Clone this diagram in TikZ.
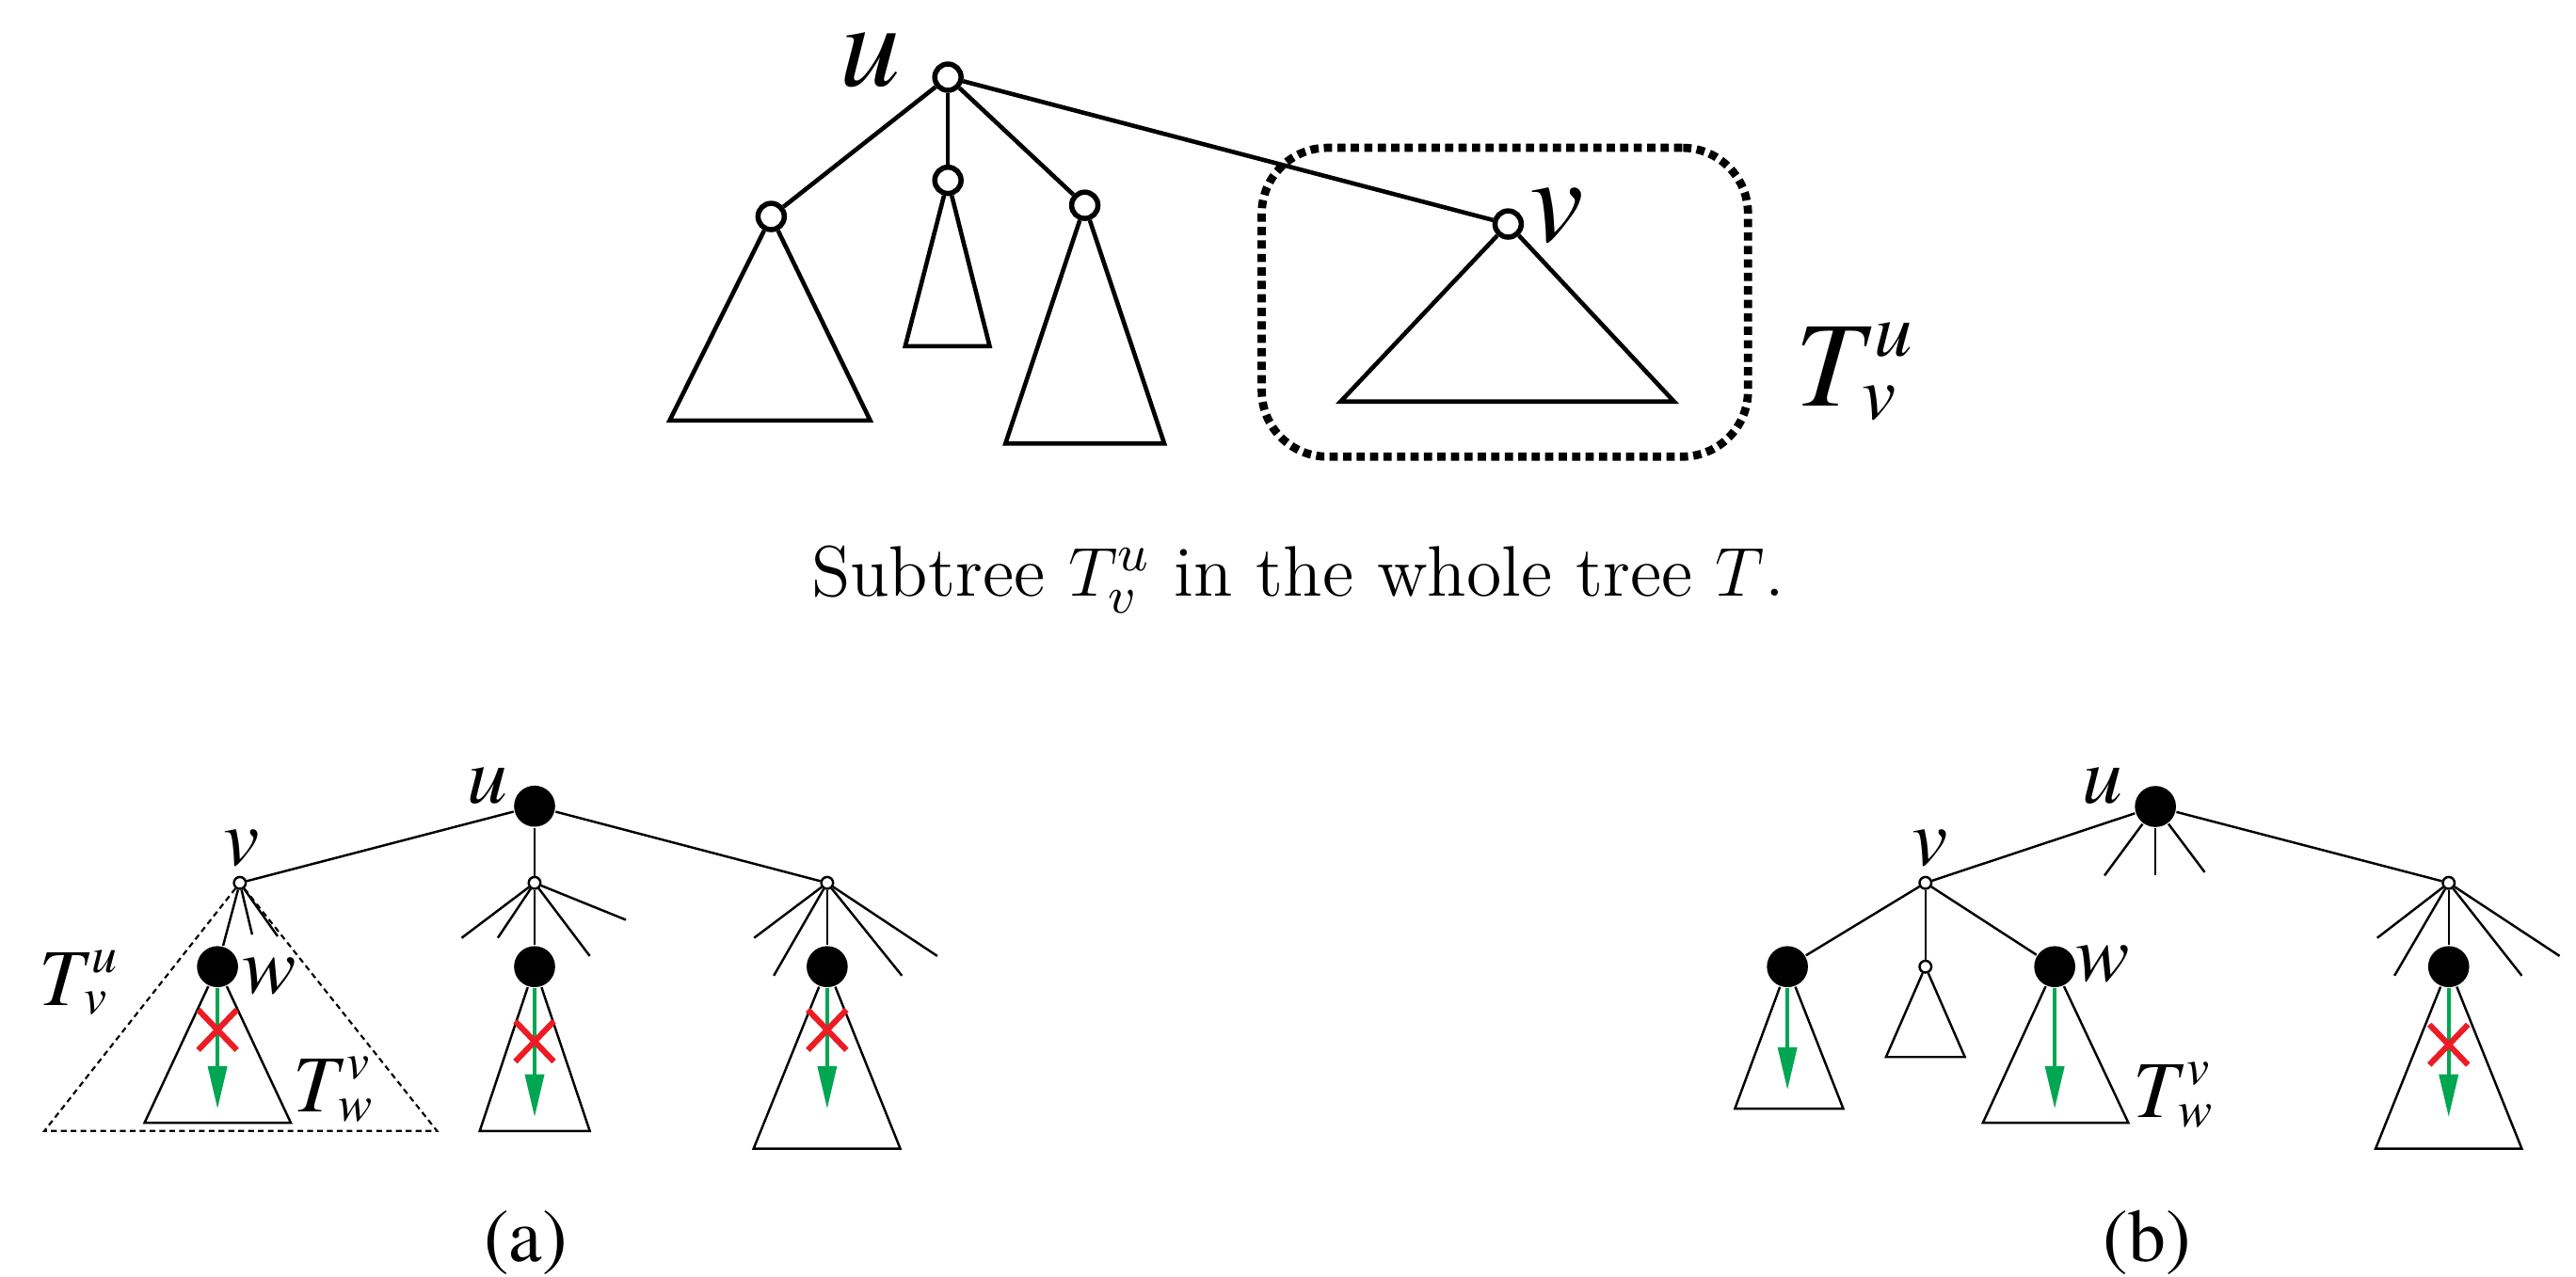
\documentclass[tikz,border=0pt]{standalone}
\usepackage{fontspec}
\usepackage{amsmath}
\usetikzlibrary{arrows.meta,shapes.misc}
\newfontfamily\labfont{texgyretermes}[Extension=.otf,UprightFont=*-regular,ItalicFont=*-italic]
\definecolor{leafgreen}{HTML}{00A651}
\definecolor{crossred}{HTML}{ED1C24}
% T with sub- and superscript, set in the label font
\newcommand{\tsubsup}[2]{T\rlap{\kern0.1em\raisebox{0.41em}{\scalebox{0.63}{#2}}}\raisebox{-0.11em}{\scalebox{0.63}{#1}}}
% subtree triangle hanging from node #1
\newcommand{\subtri}[4]{
  \coordinate (#1l) at #2;
  \coordinate (#1r) at #3;
  \draw[#4] (#1) -- (#1l) -- (#1r) -- (#1);
}
\tikzset{
  topedge/.style={line width=0.75pt},
  topnode/.style={circle,draw,fill=white,line width=0.9pt,minimum size=1.6mm,inner sep=0pt},
  subbox/.style={draw,line width=0.5mm,dash pattern=on 0.5mm off 0.32mm,rounded corners=4mm},
  thinedge/.style={line width=0.4pt},
  blacknode/.style={circle,fill=black,minimum size=2.5mm,inner sep=0pt},
  whitenode/.style={circle,draw,fill=white,line width=0.4pt,minimum size=0.72mm,inner sep=0pt},
  search/.style={draw=leafgreen,line width=0.6pt,-{Triangle[length=2.6mm,width=1.15mm]}},
  cut/.style={cross out,draw=crossred,line width=1pt,minimum width=2mm,minimum height=2.1mm,inner sep=0pt},
  reach/.style={line width=0.35pt,dash pattern=on 0.35mm off 0.25mm},
  biglab/.style={font=\labfont\itshape\fontsize{21}{21}\selectfont,inner sep=0pt},
  lab/.style={font=\labfont\itshape\fontsize{14}{14}\selectfont,inner sep=0pt},
  sublab/.style={font=\labfont\fontsize{13}{13}\selectfont,inner sep=0pt}
}

\begin{document}
\begin{tikzpicture}[x=0.1mm,y=-0.1mm]
  \useasboundingbox (0,0) rectangle (1568,777);

  % whole tree T
  \node[subbox,minimum width=29.6mm,minimum height=18.8mm] (box) at (916,184) {};
  \node[topnode] (u0) at (577,47) {};
  \node[topnode] (a1) at (469.4,131.8) {};
  \node[topnode] (a2) at (577,109.8) {};
  \node[topnode] (a3) at (660.3,125) {};
  \node[topnode] (v0) at (918,136.4) {};
  \foreach \c in {a1,a2,a3,v0}
    \draw[topedge] (u0) -- (\c);
  \subtri{a1}{(407.6,256)}{(529.7,256)}{topedge}
  \subtri{a2}{(551,210.8)}{(602.4,210.8)}{topedge}
  \subtri{a3}{(612,270)}{(708.7,270)}{topedge}
  \subtri{v0}{(816,244.5)}{(1019,244.5)}{topedge}
  \node[biglab,anchor=base] (lu0) at (530,52.5) {u};
  \node[biglab,anchor=base] (lv0) at (947.5,147) {v};
  \node[biglab,anchor=base west] (ltvu) at (1092,247.3) {\tsubsup{v}{u}};
  \node[anchor=base,inner sep=0pt,font=\fontsize{12.4}{14}\selectfont] (cap) at (790,362.8)
    {Subtree $T_v^u$ in the whole tree $T$.};

  % (a)
  \node[blacknode] (uA) at (325.4,490.8) {};
  \node[whitenode] (vA) at (146,537.5) {};
  \node[whitenode] (mA) at (325.4,537.5) {};
  \node[whitenode] (rA) at (503.5,537.5) {};
  \node[blacknode] (wA) at (132.4,588.5) {};
  \node[blacknode] (mwA) at (325.4,588.5) {};
  \node[blacknode] (rwA) at (503.5,588.5) {};
  \foreach \a/\b in {uA/vA,uA/mA,uA/rA,vA/wA,mA/mwA,rA/rwA}
    \draw[thinedge] (\a) -- (\b);
  \foreach \x/\y [count=\i] in {153.5/569,169/570}
    {\coordinate (vA\i) at (\x,\y); \draw[thinedge] (vA) -- (vA\i);}
  \foreach \x/\y [count=\i] in {281/571,303/571,359/582,381/560}
    {\coordinate (mA\i) at (\x,\y); \draw[thinedge] (mA) -- (mA\i);}
  \foreach \x/\y [count=\i] in {459/571,471/594,549/594,570.5/582}
    {\coordinate (rA\i) at (\x,\y); \draw[thinedge] (rA) -- (rA\i);}
  \subtri{vA}{(27,688.5)}{(266,688.5)}{reach}
  \subtri{wA}{(88,683.5)}{(177,683.5)}{thinedge}
  \subtri{mwA}{(292,688.5)}{(359,688.5)}{thinedge}
  \subtri{rwA}{(458.7,699.3)}{(548,699.3)}{thinedge}
  \coordinate (gA1) at (132.4,675);
  \coordinate (gA2) at (325.4,680);
  \coordinate (gA3) at (503.5,675);
  \draw[search] (wA) -- (gA1);
  \draw[search] (mwA) -- (gA2);
  \draw[search] (rwA) -- (gA3);
  \node[cut] (xA1) at (132.4,627) {};
  \node[cut] (xA2) at (325.4,634) {};
  \node[cut] (xA3) at (503.5,627) {};
  \node[lab,anchor=base] (luA) at (296.5,489) {u};
  \node[lab,anchor=base] (lvA) at (147,527) {v};
  \node[lab,anchor=base] (lwA) at (164,604.5) {w};
  \node[lab,anchor=base west] (ltvuA) at (23,612) {\tsubsup{v}{u}};
  \node[lab,anchor=base west] (ltwvA) at (178,677) {\tsubsup{w}{v}};
  \node[sublab,anchor=base] (capA) at (320,768) {(a)};

  % (b)
  \node[blacknode] (uB) at (1312,491) {};
  \node[whitenode] (vB) at (1172,537.5) {};
  \node[whitenode] (rB) at (1490.5,537.5) {};
  \node[blacknode] (c1B) at (1088,588.5) {};
  \node[whitenode] (c2B) at (1172,588.5) {};
  \node[blacknode] (wB) at (1250.7,588.5) {};
  \node[blacknode] (rwB) at (1490.5,588.5) {};
  \foreach \a/\b in {uB/vB,uB/rB,vB/c1B,vB/c2B,vB/wB,rB/rwB}
    \draw[thinedge] (\a) -- (\b);
  \foreach \x/\y [count=\i] in {1281/533,1312/533,1342/531}
    {\coordinate (uB\i) at (\x,\y); \draw[thinedge] (uB) -- (uB\i);}
  \foreach \x/\y [count=\i] in {1447/571,1457.5/594,1535/594,1558/582}
    {\coordinate (rB\i) at (\x,\y); \draw[thinedge] (rB) -- (rB\i);}
  \subtri{c1B}{(1056,675)}{(1122,675)}{thinedge}
  \subtri{c2B}{(1148,643.5)}{(1196,643.5)}{thinedge}
  \subtri{wB}{(1207,683.5)}{(1295.5,683.5)}{thinedge}
  \subtri{rwB}{(1446,699.3)}{(1535,699.3)}{thinedge}
  \coordinate (gB1) at (1088,663.5);
  \coordinate (gB2) at (1250.7,675);
  \coordinate (gB3) at (1490.5,680);
  \draw[search] (c1B) -- (gB1);
  \draw[search] (wB) -- (gB2);
  \draw[search] (rwB) -- (gB3);
  \node[cut] (xB) at (1490.5,636) {};
  \node[lab,anchor=base] (luB) at (1280,489) {u};
  \node[lab,anchor=base] (lvB) at (1175,527) {v};
  \node[lab,anchor=base] (lwB) at (1280,597) {w};
  \node[lab,anchor=base west] (ltwvB) at (1298,680.5) {\tsubsup{w}{v}};
  \node[sublab,anchor=base] (capB) at (1307,768) {(b)};
\end{tikzpicture}
\end{document}
